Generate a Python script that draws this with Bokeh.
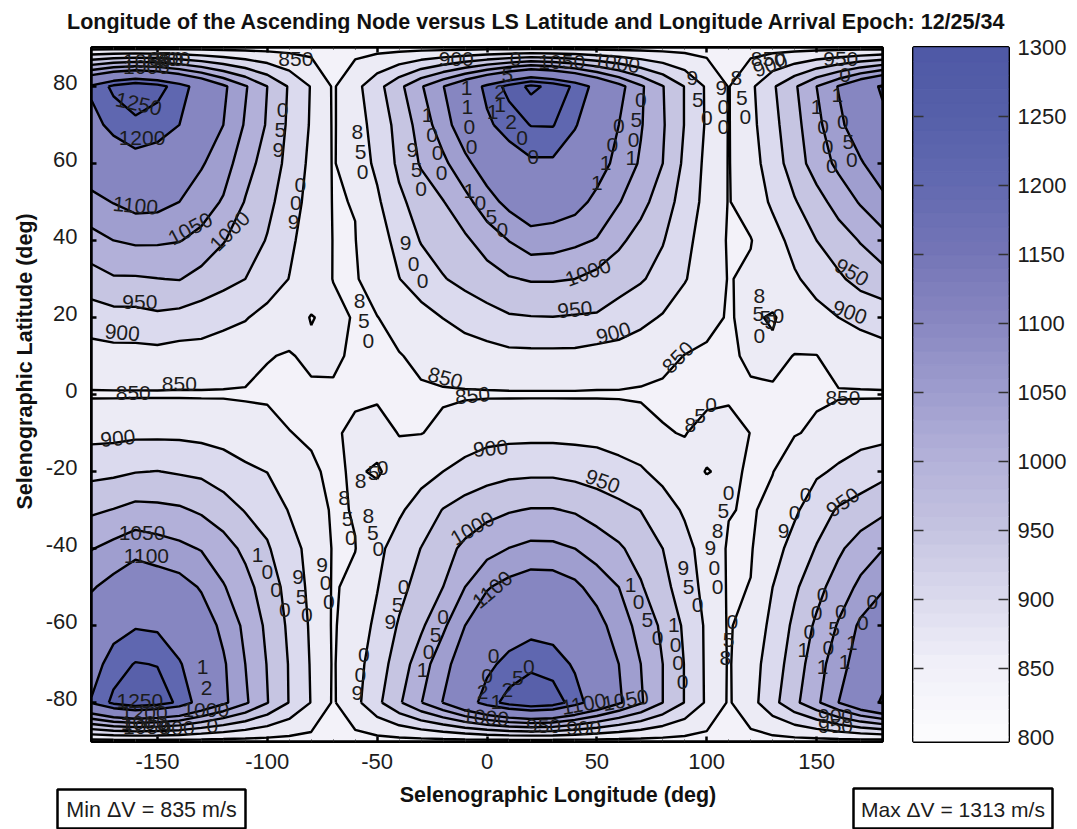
from bokeh.plotting import figure
from bokeh.layouts import column, row
from bokeh.models import Range1d, LinearAxis, FixedTicker, Label
from bokeh.core.properties import value
from bokeh.embed import file_html
from bokeh.resources import INLINE
import math

TITLE = "Longitude of the Ascending Node versus LS Latitude and Longitude Arrival Epoch: 12/25/34"
X_LABEL = "Selenographic Longitude (deg)"
Y_LABEL = "Selenographic Latitude (deg)"
MIN_TEXT = "Min \u0394V = 835 m/s"
MAX_TEXT = "Max \u0394V = 1313 m/s"

lon = [-180,-170,-160,-150,-140,-130,-120,-110,-100,-90,-80,-70,-60,-50,-40,-30,-20,-10,0,10,20,30,40,50,60,70,80,90,100,110,120,130,140,150,160,170,180]
lat = [-90,-80,-70,-60,-50,-40,-30,-20,-10,0,10,20,30,40,50,60,70,80,90]

dv_m90 = [835,835,835,835,835,835,835,835,835,835,835,835,835,835,835,835,835,835,835,835,835,835,835,835,835,835,835,835,835,835,835,835,835,835,835,835,835]
dv_m80 = [1205,1262,1290,1275,1240,1170,1112,1058,1002,948,898,845,886,938,993,1048,1102,1166,1225,1270,1295,1280,1225,1165,1108,1056,1000,948,893,845,882,934,988,1040,1100,1160,1208]
dv_m70 = [1171,1227,1253,1248,1205,1160,1107,1050,998,947,896,846,882,925,974,1026,1083,1130,1186,1218,1237,1227,1192,1145,1100,1050,1000,948,892,846,880,923,975,1027,1081,1125,1171]
dv_m60 = [1134,1175,1195,1190,1163,1130,1087,1039,990,941,893,845,875,910,955,992,1040,1100,1136,1164,1179,1173,1148,1122,1072,1035,990,942,892,845,872,911,961,1009,1055,1110,1134]
dv_m50 = [1095,1118,1142,1133,1122,1095,1054,1017,975,934,887,846,860,898,935,970,1000,1050,1096,1117,1132,1130,1112,1078,1050,1005,965,925,885,845,851,900,942,983,1024,1061,1095]
dv_m40 = [1048,1065,1083,1072,1061,1047,1020,989,955,920,884,847,849,888,921,951,983,1010,1031,1051,1062,1061,1050,1029,1007,980,950,915,880,845,847,880,919,953,991,1025,1048]
dv_m30 = [992,1002,1015,1012,1007,993,974,947,933,897,870,845,852,874,893,921,952,971,986,996,1003,1003,995,978,964,949,920,894,873,852,846,860,892,928,955,970,990]
dv_m20 = [936,940,948,951,945,940,923,909,899,873,856,842,856,844,872,883,900,917,929,938,940,940,934,927,915,905,887,868,848,858,845,849,872,893,907,923,936]
dv_m10 = [885,886,890,890,890,886,883,873,872,851,845,840,865,870,848,849,858,872,883,885,886,886,885,884,879,873,853,848,867,870,849,846,848,855,875,882,885]
dv_0   = [846,846,846,846,846,846,846,845,842,840,843,842,838,843,844,845,846,846,846,846,846,846,846,846,846,844,842,840,838,842,843,846,845,846,846,846,846]
dv_10  = [880,883,883,884,878,880,875,871,852,847,858,860,840,845,848,858,866,874,880,887,888,888,888,880,879,873,861,849,846,842,858,858,849,849,870,875,880]
dv_20  = [924,932,933,940,934,925,913,903,885,870,848,860,847,849,866,884,901,918,932,945,948,949,946,945,929,912,896,875,857,848,856,846,869,885,900,912,924]
dv_30  = [979,995,995,999,1002,982,966,950,925,899,874,849,846,871,899,923,947,964,980,996,1004,1004,1000,984,970,955,932,903,874,848,857,876,894,917,942,967,979]
dv_40  = [1033,1050,1058,1057,1052,1036,1003,975,947,909,878,849,849,880,914,953,972,992,1021,1051,1077,1073,1061,1047,1010,980,953,914,877,846,848,881,916,950,977,1003,1033]
dv_50  = [1085,1102,1118,1116,1100,1074,1045,997,963,924,882,848,851,892,940,971,998,1033,1080,1115,1139,1132,1120,1086,1053,1016,974,929,885,848,870,908,946,982,1019,1055,1085]
dv_60  = [1135,1161,1177,1173,1150,1105,1073,1020,978,936,888,847,873,910,960,1005,1038,1087,1129,1168,1190,1190,1162,1125,1083,1044,1000,940,888,848,880,924,976,1022,1062,1094,1135]
dv_70  = [1182,1215,1237,1222,1200,1150,1100,1045,995,941,895,846,878,919,967,1021,1078,1133,1190,1223,1252,1253,1205,1155,1100,1054,1005,948,894,848,886,935,983,1037,1087,1135,1182]
dv_80  = [1210,1262,1290,1270,1225,1170,1110,1055,1000,945,897,845,885,933,987,1045,1098,1155,1214,1267,1313,1285,1240,1178,1118,1058,1002,948,893,848,890,943,993,1050,1103,1160,1210]
dv_90  = [835,835,835,835,835,835,835,835,835,835,835,835,835,835,835,835,835,835,835,835,835,835,835,835,835,835,835,835,835,835,835,835,835,835,835,835,835]

levels = [800,850,900,950,1000,1050,1100,1200,1250,1300,1350]
fills = ["#f3f2f9","#ecebf5","#dbdaee","#c6c5e2","#b2b0d9","#9f9ecf","#8686c1","#5f67b0","#5860aa","#545ea8"]

x_ticks = [-150,-100,-50,0,50,100,150]
x_minor = [-170,-160,-140,-130,-120,-110,-90,-80,-70,-60,-40,-30,-20,-10,10,20,30,40,60,70,80,90,110,120,130,140,160,170]
y_ticks = [-80,-60,-40,-20,0,20,40,60,80]
cb_ticks = [800,850,900,950,1000,1050,1100,1150,1200,1250,1300]
cb_tick_marks = [850,900,950,1000,1050,1100,1150,1200,1250]
cb_colors = ["#fbfbfd","#f0eff8","#d9d8ec","#c3c2e0","#b2b0d8","#9c9bcd","#8786c0","#7374b6","#6169b0","#555fa9","#4e58a5"]

# whole contour labels: text, lon, lat, angle
lab_text = ["1250","1200","1100","1050","1000","1000","1050","950","900","850","900","1050","1000","1000","850","900","950","950","900","950","900","850","850","900","1050","1100","850","850","850","900","950","1000","900","950","850","950","1100","1100","1050","1000","950","900","900","950","1250","1200","1000","1050","900","1000"]
lab_lon = [-158.6,-157,-160,-135,-117,-155,-155,-146,-143,-87,-14,34,59,46,128,129,161,166,165,-158,-166,-161,-140,-168,-157,-155,-19,-6.6,87,57.6,40,-6.6,1.6,52.6,162,162,2.5,44,63,-0.7,25.7,44,158.6,158.6,-158,-156,-156,-155,-141,-128]
lab_lat = [75.4,66.6,49,43,42.4,85,86.5,87,87,87,87,86.3,86,31.7,87,85.5,87,31.7,21.3,24,16,0.3,2.6,-11.4,-35.9,-42,4.2,-0.3,9.6,15.9,22,-34.8,-14,-22.6,-0.8,-28,-50.7,-80.4,-79.4,-83.9,-86,-86.5,-83.4,-86,-79.7,-82.7,-85.3,-86.3,-86.5,-81.9]
lab_angle = [-12,0,-5,28,45,0,0,0,0,0,0,0,-8,20,0,20,0,-30,-20,0,-5,0,0,5,0,0,-15,5,45,15,5,30,5,-20,0,35,40,10,10,-5,0,0,0,0,0,0,0,0,0,0]

# single characters strung along the contour lines
chr_lon = [-93,-94,-95,-85,-87,-88,-59,-57.5,-56.6,13,9.3,-9.3,-8.9,-8,-7,6,6,2.5,11,16,21,-27,-25,-22.5,-20.7,-34,-32,-30,-8,-3,2,7,-37,-33.4,-29.3,60,57,54,50,70,68,66.7,65.7,93.5,96,100,106.7,107.6,107.6,113.5,116,117.6,163,150,153,155,157,159.5,162,164.5,166,-65,-63.5,-62,-58,-56,-54,-57.5,-51.6,-47.5,-54,-52,-49.4,124,123.5,129,126.7,132.6,124,92.6,97,102,110,107.6,105,101.7,103.5,105,145,140,135,111.7,110,108.5,152.7,150,146.7,144,161,158,155.4,152.7,175.4,171,166,162.7,-104.4,-100,-96,-92,-86,-84.4,-82,-75,-73.5,-72,-129.4,-127.6,-125,3,0,-2,19,14,9.3,4.3,-20,-23.4,-26.6,-29.3,-38,-40.7,-44,-56,-57.6,-59,65.3,69,73,77.6,85,85.8,87,89,89.4,91.7,95.8]
chr_lat = [73.8,68.6,63.4,54.3,49.7,44.7,68.1,62.9,57.7,87,82.9,79.6,74.6,69.4,64.2,78.5,75.1,73.3,70.7,66.6,61.6,72.5,67.3,62.7,57.5,63.4,58.2,53.3,52.8,49.7,46,42.6,39.3,34,29.6,69.7,64.7,60,54.9,76.4,71.2,66,61.4,82.2,76.4,71.8,79.6,74.6,69.4,82.2,77,72,83,74.6,69.4,64.2,59.3,77.7,70.7,65.5,60.8,-27,-32.2,-37.2,24.4,19.2,14,-22.4,-20.3,-19,-31.5,-35.9,-40,25.7,21,18.7,19.8,20.5,15.3,-8,-5.5,-2.6,-25.5,-30.2,-35.4,-39.8,-45,-50,-26,-30.7,-35.4,-59,-63.7,-68.4,-52,-56.7,-61.6,-66.3,-56.4,-61,-65.8,-70.7,-54,-59.3,-64.5,-69.4,-41.6,-46,-50.7,-56,-47.3,-52.5,-57.2,-44.2,-48.9,-53.8,-70.7,-76.2,-86,-68,-73,-77.2,-70.7,-73.6,-76.7,-79.8,-57.7,-62.4,-66.8,-71.5,-50,-54.6,-59,-67.6,-72.8,-77.5,-49.4,-53.8,-58.5,-63.2,-59.8,-65,-69.7,-74.6,-45,-50,-54.6]
chr_text = list(
    "059" "009" "850" "05" "1100" "211" "200" "1000" "950" "1050" "900" "0011" "0501" "950" "900" "850" "0" "1000" "1050"
    "850" "850" "850" "850" "85550" "0" "850" "0589" "00" "009" "058" "0001" "0501" "0011" "1000" "950" "900" "120" "002"
    "0521" "0501" "059" "009" "1050" "1000" "950")

FONT = "Liberation Sans"
INK = "#1c1c1c"

z = [dv_m90,dv_m80,dv_m70,dv_m60,dv_m50,dv_m40,dv_m30,dv_m20,dv_m10,dv_0,dv_10,dv_20,dv_30,dv_40,dv_50,dv_60,dv_70,dv_80,dv_90]

# ---- title strip
top = figure(width=1077, height=33, x_range=Range1d(0,1077), y_range=Range1d(0,33),
             toolbar_location=None, output_backend="svg", min_border=0, outline_line_color=None)
top.axis.visible = False
top.grid.visible = False
top.add_layout(Label(x=536, y=12, text=TITLE, text_font=FONT, text_font_style="bold",
                     text_font_size="21.5px", text_align="center", text_baseline="middle", text_color="#111111"))

# ---- strip for the latitude axis title
side = figure(width=40, height=745, x_range=Range1d(0,40), y_range=Range1d(0,745),
              toolbar_location=None, output_backend="svg", min_border=0, outline_line_color=None)
side.axis.visible = False
side.grid.visible = False
side.add_layout(Label(x=24, y=408, text=Y_LABEL, angle=math.pi / 2, text_font=FONT, text_font_style="bold",
                      text_font_size="21.5px", text_align="center", text_baseline="middle", text_color="#111111"))

# ---- main contour panel
p = figure(width=865, height=745, x_range=Range1d(-180,180), y_range=Range1d(-90.1,90.1),
           toolbar_location=None, output_backend="svg",
           min_border_left=51, min_border_right=23, min_border_top=14, min_border_bottom=37,
           x_axis_type=None, y_axis_type=None, outline_line_color="black", outline_line_width=3)
p.grid.visible = False
p.contour(lon, lat, z, levels, fill_color=fills, line_color="black", line_width=2.4)
p.text(lab_lon, lab_lat, text=lab_text, angle=lab_angle, angle_units="deg", text_font=value(FONT),
       text_font_size="21px", text_align="center", text_baseline="middle", text_color=INK)
p.text(chr_lon, chr_lat, text=chr_text, text_font=value(FONT),
       text_font_size="21px", text_align="center", text_baseline="middle", text_color=INK)

def style(ax):
    ax.axis_line_color = "black"
    ax.axis_line_width = 2.5
    ax.major_tick_line_color = "black"
    ax.major_tick_line_width = 2.5
    ax.major_tick_in = 5
    ax.major_tick_out = 0
    ax.minor_tick_line_color = "#333333"
    ax.minor_tick_in = 2
    ax.minor_tick_out = 0

def blank(ax, ticks):
    ax.major_label_overrides = {v: "" for v in ticks}
    ax.major_label_standoff = 0
    ax.major_label_text_font_size = "1px"

xb = LinearAxis(ticker=FixedTicker(ticks=x_ticks, minor_ticks=x_minor),
                major_label_overrides={v: str(v) for v in x_ticks})
style(xb)
xb.major_label_text_font = FONT
xb.major_label_text_font_size = "22px"
xb.major_label_text_color = INK
xb.major_label_standoff = 12
p.add_layout(xb, "below")

xt = LinearAxis(ticker=FixedTicker(ticks=x_ticks, minor_ticks=x_minor))
style(xt)
blank(xt, x_ticks)
p.add_layout(xt, "above")

yr = LinearAxis(ticker=FixedTicker(ticks=y_ticks))
style(yr)
blank(yr, y_ticks)
p.add_layout(yr, "right")

yl = LinearAxis(ticker=FixedTicker(ticks=y_ticks))
style(yl)
blank(yl, y_ticks)
p.add_layout(yl, "left")

# tick texts sit a little above their ticks in the reference
p.extra_y_ranges = {"labels": Range1d(-91.2, 89.0)}
ylab = LinearAxis(y_range_name="labels", ticker=FixedTicker(ticks=y_ticks),
                  major_label_overrides={v: str(v) for v in y_ticks},
                  axis_line_color=None, major_tick_line_color=None, minor_tick_line_color=None)
ylab.major_label_text_font = FONT
ylab.major_label_text_font_size = "22px"
ylab.major_label_text_color = INK
ylab.major_label_standoff = 8
p.add_layout(ylab, "left")

# ---- colour bar
cb = figure(width=172, height=745, x_range=Range1d(0,1), y_range=Range1d(796.8,1300.2),
            toolbar_location=None, output_backend="svg",
            min_border_left=8, min_border_right=69, min_border_top=12, min_border_bottom=36,
            x_axis_type=None, y_axis_type=None, outline_line_color="black", outline_line_width=3)
cb.grid.visible = False
band_edges = list(range(790, 1311, 10))
def band_color(v):
    v = min(max(v, 800), 1300)
    i = min(int((v - 800) // 50), 9)
    t = (v - cb_ticks[i]) / 50
    a, b = cb_colors[i], cb_colors[i + 1]
    return "#" + "".join("%02x" % round(int(a[k:k+2], 16) * (1 - t) + int(b[k:k+2], 16) * t) for k in (1, 3, 5))
band_fill = [band_color(v) for v in band_edges[:-1]]
cb.quad(left=0, right=1, bottom=band_edges[:-1], top=band_edges[1:],
        fill_color=band_fill, line_color=band_fill, line_width=1)

def cb_marks(ax):
    ax.axis_line_color = None
    ax.major_tick_in = 10
    ax.major_tick_out = 0
    ax.major_tick_line_color = "#333333"
    ax.major_tick_line_width = 1.5
    ax.minor_tick_line_color = None
    blank(ax, cb_tick_marks)

cbr = LinearAxis(ticker=FixedTicker(ticks=cb_tick_marks))
cb_marks(cbr)
cb.add_layout(cbr, "right")
cbl = LinearAxis(ticker=FixedTicker(ticks=cb_tick_marks))
cb_marks(cbl)
cb.add_layout(cbl, "left")
cbt = LinearAxis(ticker=FixedTicker(ticks=cb_ticks), major_label_overrides={v: str(v) for v in cb_ticks},
                 axis_line_color=None, major_tick_line_color=None, minor_tick_line_color=None)
cbt.major_label_text_font = FONT
cbt.major_label_text_font_size = "22px"
cbt.major_label_text_color = INK
cbt.major_label_standoff = 3
cb.add_layout(cbt, "right")

# ---- bottom strip
bot = figure(width=1077, height=51, x_range=Range1d(0,1077), y_range=Range1d(0,51),
             toolbar_location=None, output_backend="svg", min_border=0, outline_line_color=None)
bot.axis.visible = False
bot.grid.visible = False
bot.quad(left=[57,853], right=[245,1052], bottom=[1,1], top=[40,41],
         fill_color="white", line_color="black", line_width=2.5)
bot.add_layout(Label(x=557.5, y=35, text=X_LABEL, text_font=FONT, text_font_style="bold",
                     text_font_size="21.5px", text_align="center", text_baseline="middle", text_color="#111111"))
bot.add_layout(Label(x=151, y=20, text=MIN_TEXT, text_font=FONT, text_font_size="21.5px",
                     text_align="center", text_baseline="middle", text_color=INK))
bot.add_layout(Label(x=952.5, y=20, text=MAX_TEXT, text_font=FONT, text_font_size="21px",
                     text_align="center", text_baseline="middle", text_color=INK))

page = column(top, row(side, p, cb), bot)
open("out.html", "w").write(file_html(page, INLINE))
